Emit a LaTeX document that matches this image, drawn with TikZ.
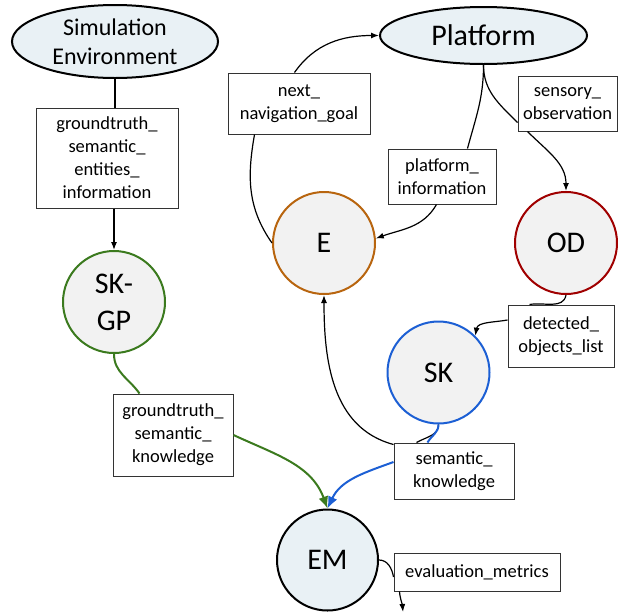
\documentclass[tikz,border=0pt]{standalone}
\usepackage{fontspec}
\setmainfont{Carlito}
\usetikzlibrary{shapes.geometric,arrows.meta,calc}
\definecolor{efill}{HTML}{F2F2F2}
\definecolor{bfill}{HTML}{E9F1F5}
\definecolor{ecol}{HTML}{B8650F}
\definecolor{odcol}{HTML}{A00000}
\definecolor{skcol}{HTML}{1C5FD4}
\definecolor{gcol}{HTML}{3B7A1E}
\definecolor{boxcol}{HTML}{333333}
\begin{document}
\begin{tikzpicture}[x=1pt,y=1pt,
 ell/.style={ellipse,draw=black,line width=2pt,fill=bfill,inner sep=0pt,align=center},
 circ/.style={circle,line width=2pt,fill=efill,inner sep=0pt,minimum size=102pt,align=center,font=\fontsize{30}{37}\selectfont},
 lbl/.style={rectangle,draw=boxcol,line width=1pt,fill=white,inner sep=0pt,align=center,font=\fontsize{18.5}{23}\selectfont},
 conn/.style={line width=1.2pt,draw=black},
 tip/.style={-{Latex[length=8pt,width=6pt]}},
 bigtip/.style={-{Latex[length=12pt,width=10pt]}},
]
\useasboundingbox (0,0) rectangle (618,-614);

% top ellipses
\node[ell,minimum width=206pt,minimum height=73pt,inner ysep=-4pt,font=\fontsize{24}{29}\selectfont] (sim) at (115,-41.5) {Simulation\\Environment};
\node[ell,minimum width=207pt,minimum height=57pt,font=\fontsize{30}{36}\selectfont] (plat) at (483.5,-35.5) {Platform};

% circles
\node[circ,draw=gcol] (skgp) at (114,-302) {SK-\\GP};
\node[circ,draw=ecol] (E) at (324,-243) {E};
\node[circ,draw=odcol] (OD) at (566,-243) {OD};
\node[circ,draw=skcol] (SK) at (438.5,-372.5) {SK};
\node[circ,draw=black,fill=bfill,minimum size=101pt] (EM) at (327.5,-560) {EM};

% label boxes
\node[lbl,minimum width=142pt,minimum height=100pt] (gsei) at (107,-158) {groundtruth\_\\semantic\_\\entities\_\\information};
\node[lbl,minimum width=142pt,minimum height=61pt] (nng) at (299,-103.5) {next\_\\navigation\_goal};
\node[lbl,minimum width=108pt,minimum height=55pt] (pinfo) at (442,-176.5) {platform\_\\information};
\node[lbl,minimum width=99pt,minimum height=55pt] (sobs) at (567.5,-103.5) {sensory\_\\observation};
\node[lbl,minimum width=106pt,minimum height=62pt] (dol) at (561,-336) {detected\_\\objects\_list};
\node[lbl,minimum width=120pt,minimum height=56pt] (skb) at (454,-471) {semantic\_\\knowledge};
\node[lbl,minimum width=120pt,minimum height=82pt] (gsk) at (173,-435) {groundtruth\_\\semantic\_\\knowledge};
\node[lbl,minimum width=166pt,minimum height=38pt] (emb) at (477,-572) {evaluation\_metrics};
\coordinate (out) at (403,-612);

% connectors
\draw[conn] (sim.south) -- (sim.south |- gsei.north);
\draw[conn,tip] (skgp.north |- gsei.south) -- (skgp.north);

\draw[conn] (E.west) to[out=125,in=-100] ($(nng.south west)+(27,0)$);
\draw[conn,tip] ($(nng.north west)+(67,0)$) to[out=55,in=180] (plat.west);

\draw[conn] (plat.south) to[out=-90,in=75] ($(pinfo.north west)+(80,0)$);
\draw[conn,tip] ($(pinfo.south west)+(49,0)$) to[out=-120,in=20] (E.5);

\draw[conn] (plat.south) to[out=-90,in=135] ($(sobs.south west)+(0,9)$);
\draw[conn,tip] ($(sobs.south west)+(10,0)$) to[out=-45,in=90] (OD.north);

\draw[conn] (OD.south) to[out=-100,in=10] ($(dol.north west)+(22,0)$);
\draw[conn,tip] ($(dol.west)+(0,16)$) to[out=190,in=80] (SK.45);

\draw[conn] (SK.south) to[out=-90,in=30] ($(skb.north west)+(23,0)$);
\draw[conn,tip] ($(skb.north west)+(0,-2)$) to[out=165,in=-90] (E.south);

\draw[line width=2pt,draw=skcol] (SK.south) to[out=-90,in=60] ($(skb.north west)+(34,0)$);
\draw[line width=2pt,draw=skcol,bigtip] ($(skb.west)+(0,9)$) to[out=200,in=65] (EM.north);

\draw[line width=2pt,draw=gcol] (skgp.south) to[out=-90,in=125] ($(gsk.north west)+(27,0)$);
\draw[line width=2pt,draw=gcol,bigtip] (gsk.east) to[out=-25,in=110] (EM.north);

\draw[conn] (EM.east) to[out=0,in=100] ($(emb.west)+(0,-5)$);
\draw[conn,tip] ($(emb.south west)+(6,0)$) to[out=-85,in=95] (out);
\end{tikzpicture}
\end{document}
